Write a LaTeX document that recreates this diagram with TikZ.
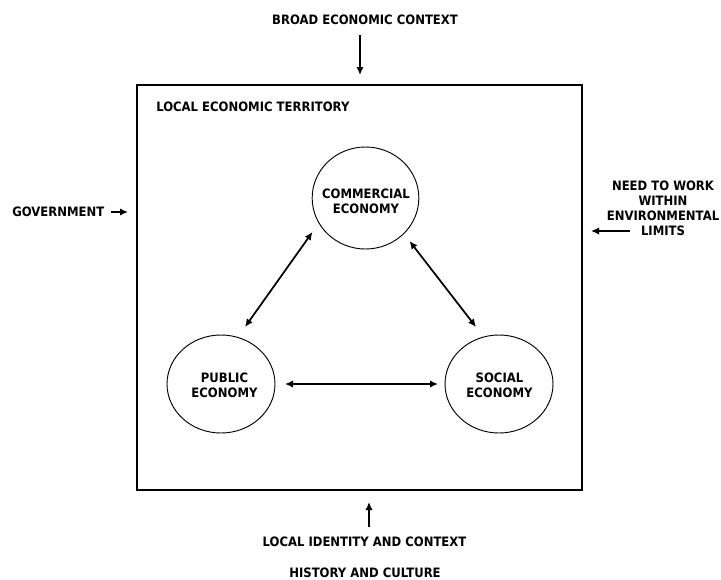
\documentclass[tikz,border=0pt]{standalone}
\usepackage{fontspec}
\setmainfont{DejaVu Sans}[FakeStretch=0.9]
\usetikzlibrary{arrows.meta,shapes.geometric,calc}
\begin{document}
\begin{tikzpicture}[x=0.75pt,y=-0.75pt,
  lbl/.style={font=\fontsize{9.7}{11.25}\selectfont\bfseries, inner sep=0pt, align=center},
  eco/.style={draw, ellipse, line width=0.7pt, inner sep=0pt},
  frame/.style={draw, line width=1.6pt},
  arr/.style={line width=1.3pt, -{Latex[length=6pt,width=5.5pt]}},
  darr/.style={line width=1.3pt, {Latex[length=6pt,width=5.5pt]}-{Latex[length=6pt,width=5.5pt]}}]
\useasboundingbox (0,0) rectangle (721,579);
% territory frame
\node[frame, minimum width=333.75pt, minimum height=303.75pt, inner sep=0pt] (box) at (359.5,287.5) {};
\node[lbl, anchor=west] (terr) at (156,107) {LOCAL ECONOMIC TERRITORY};
% outside labels
\node[lbl] (broad) at (365,20) {BROAD ECONOMIC CONTEXT};
\coordinate (broadtip) at (360,75);
\draw[arr] (broad.south -| broadtip) ++(0,10) coordinate (broadtail) (broadtail) -- (broadtip);
\node[lbl, anchor=west] (gov) at (12,212) {GOVERNMENT};
\coordinate (govtip) at (128,212);
\draw[arr] ($(gov.east)+(6,0)$) -- (govtip);
\node[lbl] (env) at (663,208.5) {NEED TO WORK\\WITHIN\\ENVIRONMENTAL\\LIMITS};
\coordinate (envtail) at (630,231);
\coordinate (envtip) at (591,231);
\draw[arr] (envtail) -- (envtip);
\node[lbl] (ident) at (364.5,541.5) {LOCAL IDENTITY AND CONTEXT};
\node[lbl] (hist) at (365,572.5) {HISTORY AND CULTURE};
\coordinate (identtip) at (369,502);
\draw[arr] (ident.north -| identtip) ++(0,-9) coordinate (identtail) (identtail) -- (identtip);
% economies
\node[eco, minimum width=80pt, minimum height=76.5pt] (com) at (365.5,198) {};
\node[eco, minimum width=81pt, minimum height=73.5pt] (pub) at (221,384) {};
\node[eco, minimum width=81pt, minimum height=73.5pt] (soc) at (499,384) {};
\node[lbl] (comt) at (366,201.5) {COMMERCIAL\\ECONOMY};
\node[lbl] (pubt) at (224.5,385.5) {PUBLIC\\ECONOMY};
\node[lbl] (soct) at (499.5,385.5) {SOCIAL\\ECONOMY};
% links
\draw[darr] ($(pub.center)+(24,-57)$) -- ($(com.center)+(-53,34)$);
\draw[darr] ($(com.center)+(44,43)$) -- ($(soc.center)+(-23,-57)$);
\draw[darr] ($(pub.center)+(64,0)$) -- ($(soc.center)+(-61,0)$);
\end{tikzpicture}
\end{document}
